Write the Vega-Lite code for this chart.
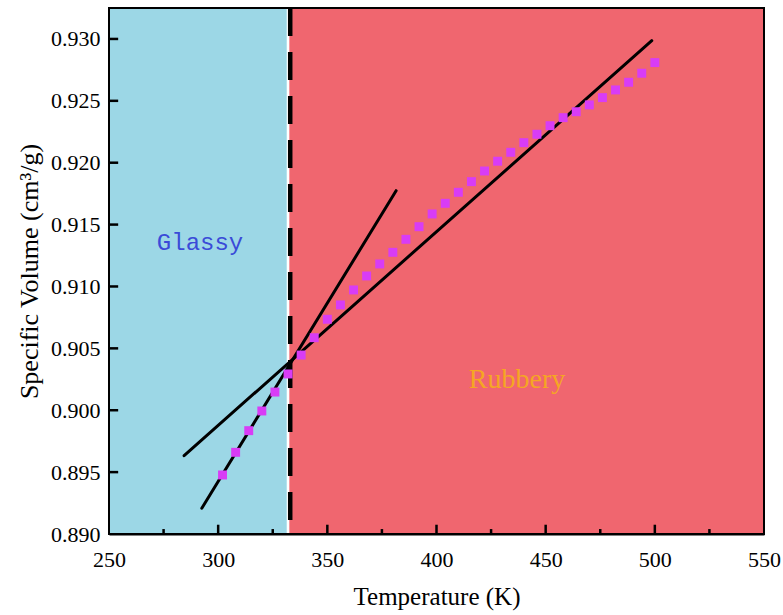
{
  "$schema": "https://vega.github.io/schema/vega-lite/v6.json",
  "width": 655,
  "height": 526,
  "autosize": {"type": "none"},
  "padding": {"left": 109, "top": 8, "right": 19, "bottom": 81},
  "background": "white",
  "config": {
    "view": {"stroke": null},
    "axis": {
      "labelFont": "Liberation Serif",
      "titleFont": "Liberation Serif",
      "labelColor": "black",
      "titleColor": "black",
      "titleFontWeight": "normal",
      "domainColor": "black",
      "domainWidth": 2,
      "ticks": false,
      "grid": false,
      "labelFlush": false,
      "labelOverlap": false
    }
  },
  "datasets": {
    "regions": [
      {"region": "Glassy", "t0": 250, "t1": 331.4, "v0": 0.89, "v1": 0.9325},
      {"region": "Rubbery", "t0": 332.6, "t1": 550, "v0": 0.89, "v1": 0.9325}
    ],
    "xmajor": [{"T": 300}, {"T": 350}, {"T": 400}, {"T": 450}, {"T": 500}],
    "xminor": [{"T": 275}, {"T": 325}, {"T": 375}, {"T": 425}, {"T": 475}, {"T": 525}],
    "yticks": [
      {"V": 0.895}, {"V": 0.9}, {"V": 0.905}, {"V": 0.91},
      {"V": 0.915}, {"V": 0.92}, {"V": 0.925}, {"V": 0.93}
    ],
    "points": [
      {"T": 302, "V": 0.89477}, {"T": 308, "V": 0.8966}, {"T": 314, "V": 0.89835},
      {"T": 320, "V": 0.89994}, {"T": 326, "V": 0.90147}, {"T": 332, "V": 0.90293},
      {"T": 338, "V": 0.90446}, {"T": 344, "V": 0.90586}, {"T": 350, "V": 0.90735},
      {"T": 356, "V": 0.90851}, {"T": 362, "V": 0.90972}, {"T": 368, "V": 0.91085},
      {"T": 374, "V": 0.91182}, {"T": 380, "V": 0.91276}, {"T": 386, "V": 0.91381},
      {"T": 392, "V": 0.91483}, {"T": 398, "V": 0.91586}, {"T": 404, "V": 0.91672},
      {"T": 410, "V": 0.91761}, {"T": 416, "V": 0.91847}, {"T": 422, "V": 0.91933},
      {"T": 428, "V": 0.92012}, {"T": 434, "V": 0.92084}, {"T": 440, "V": 0.92162},
      {"T": 446, "V": 0.9223}, {"T": 452, "V": 0.92299}, {"T": 458, "V": 0.92364},
      {"T": 464, "V": 0.92412}, {"T": 470, "V": 0.92467}, {"T": 476, "V": 0.92526},
      {"T": 482, "V": 0.92588}, {"T": 488, "V": 0.9265}, {"T": 494, "V": 0.92723},
      {"T": 500, "V": 0.92809}
    ],
    "fits": [
      {"fit": "glassy", "T": 292.5, "V": 0.89208},
      {"fit": "glassy", "T": 381.5, "V": 0.91774},
      {"fit": "rubbery", "T": 284.4, "V": 0.89633},
      {"fit": "rubbery", "T": 498.6, "V": 0.92986}
    ],
    "tg": [{"T": 333}],
    "glassy": [{"text": "Glassy", "T": 291.7, "V": 0.91352}],
    "rubbery": [{"text": "Rubbery", "T": 436.9, "V": 0.90244}],
    "frame": [{"t0": 250, "t1": 550, "v0": 0.89, "v1": 0.9325}]
  },
  "layer": [
    {
      "data": {"name": "regions"},
      "mark": {"type": "rect"},
      "encoding": {
        "x": {
          "field": "t0", "type": "quantitative",
          "scale": {"domain": [250, 550], "nice": false, "zero": false},
          "axis": {
            "title": "Temperature (K)",
            "values": [250, 300, 350, 400, 450, 500, 550],
            "labelFontSize": 22,
            "labelPadding": 15,
            "titleFontSize": 25,
            "titlePadding": 14
          }
        },
        "x2": {"field": "t1"},
        "y": {
          "field": "v0", "type": "quantitative",
          "scale": {"domain": [0.89, 0.9325], "nice": false, "zero": false},
          "axis": {
            "title": "Specific Volume  (cm³/g)",
            "values": [0.89, 0.895, 0.9, 0.905, 0.91, 0.915, 0.92, 0.925, 0.93],
            "format": ".3f",
            "labelFontSize": 22,
            "labelPadding": 9,
            "titleFontSize": 26,
            "titlePadding": 8
          }
        },
        "y2": {"field": "v1"},
        "color": {
          "field": "region", "type": "nominal",
          "scale": {"domain": ["Glassy", "Rubbery"], "range": ["#9CD7E6", "#F0666F"]},
          "legend": null
        }
      }
    },
    {
      "data": {"name": "xmajor"},
      "mark": {"type": "rule", "color": "black", "strokeWidth": 2.5},
      "encoding": {
        "x": {"field": "T", "type": "quantitative"},
        "y": {"datum": 0.89, "type": "quantitative"},
        "y2": {"datum": 0.89075}
      }
    },
    {
      "data": {"name": "xminor"},
      "mark": {"type": "rule", "color": "black", "strokeWidth": 2.5},
      "encoding": {
        "x": {"field": "T", "type": "quantitative"},
        "y": {"datum": 0.89, "type": "quantitative"},
        "y2": {"datum": 0.8904}
      }
    },
    {
      "data": {"name": "yticks"},
      "mark": {"type": "rule", "color": "black", "strokeWidth": 2.5},
      "encoding": {
        "x": {"datum": 250, "type": "quantitative"},
        "x2": {"datum": 254.2},
        "y": {"field": "V", "type": "quantitative"}
      }
    },
    {
      "data": {"name": "tg"},
      "mark": {"type": "rule", "color": "black", "strokeWidth": 4.5, "strokeDash": [28, 16]},
      "encoding": {"x": {"field": "T", "type": "quantitative"}}
    },
    {
      "data": {"name": "fits"},
      "mark": {"type": "line", "color": "black", "strokeWidth": 3, "strokeCap": "round"},
      "encoding": {
        "x": {"field": "T", "type": "quantitative"},
        "y": {"field": "V", "type": "quantitative"},
        "detail": {"field": "fit", "type": "nominal"}
      }
    },
    {
      "data": {"name": "points"},
      "mark": {"type": "square", "color": "#D83CF6", "opacity": 1, "size": 80},
      "encoding": {
        "x": {"field": "T", "type": "quantitative"},
        "y": {"field": "V", "type": "quantitative"}
      }
    },
    {
      "data": {"name": "glassy"},
      "mark": {"type": "text", "align": "center", "baseline": "middle", "font": "Liberation Mono", "fontSize": 24, "color": "#3A4BD8"},
      "encoding": {
        "x": {"field": "T", "type": "quantitative"},
        "y": {"field": "V", "type": "quantitative"},
        "text": {"field": "text"}
      }
    },
    {
      "data": {"name": "rubbery"},
      "mark": {"type": "text", "align": "center", "baseline": "middle", "font": "Liberation Serif", "fontSize": 28, "color": "#F5A623"},
      "encoding": {
        "x": {"field": "T", "type": "quantitative"},
        "y": {"field": "V", "type": "quantitative"},
        "text": {"field": "text"}
      }
    },
    {
      "data": {"name": "frame"},
      "mark": {"type": "rect", "fill": null, "stroke": "black", "strokeWidth": 2},
      "encoding": {
        "x": {"field": "t0", "type": "quantitative"},
        "x2": {"field": "t1"},
        "y": {"field": "v0", "type": "quantitative"},
        "y2": {"field": "v1"}
      }
    }
  ]
}
